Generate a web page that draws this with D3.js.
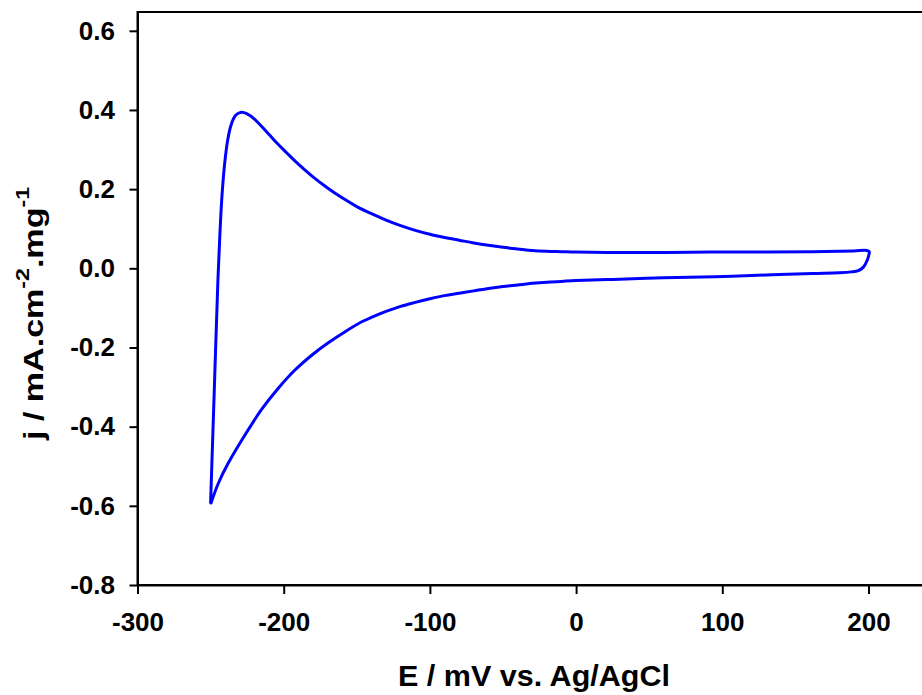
<!DOCTYPE html>
<html>
<head>
<meta charset="utf-8">
<script src="https://cdn.jsdelivr.net/npm/d3@7"></script>
<style>
    html, body { margin: 0; padding: 0; background: #fff; }
    svg { display: block; overflow: hidden; }
    .tick text { font-family: "Liberation Sans", Arial, sans-serif; font-weight: bold; font-size: 26px; fill: #000; }
    .title { font-family: "Liberation Sans", Arial, sans-serif; font-weight: bold; fill: #000; }
</style>
</head>
<body>
<svg id="svg" width="922" height="695"></svg>
<script>
// Forward (anodic) scan, -250 mV -> 200 mV
const forwardE = [-250, -247.5, -245, -243.6, -242.4, -240.6, -238.3, -236, -233, -229, -225, -220, -216, -210, -204, -198, -192, -186, -180, -170, -160, -150, -140, -130, -120, -110, -100, -90, -80, -70, -60, -50, -40, -30, -20, -10, 0, 25, 60, 95, 130, 162, 190, 198.8, 200.5]
const forwardJ = [-0.592, -0.31, -0.03, 0.089, 0.173, 0.257, 0.324, 0.362, 0.386, 0.394, 0.390, 0.377, 0.362, 0.338, 0.314, 0.292, 0.270, 0.250, 0.231, 0.203, 0.178, 0.156, 0.138, 0.122, 0.108, 0.096, 0.086, 0.078, 0.071, 0.064, 0.058, 0.053, 0.049, 0.045, 0.043, 0.042, 0.041, 0.040, 0.040, 0.041, 0.041, 0.042, 0.044, 0.045, 0.042]

// Reverse (cathodic) scan, 200 mV -> -250 mV
const reverseE = [200.3, 199.2, 196.5, 193, 188, 180, 162, 130, 95, 60, 25, 0, -10, -20, -30, -40, -50, -60, -70, -80, -90, -100, -110, -120, -130, -140, -146.6, -158, -169.5, -180, -192.3, -203.7, -215, -226.5, -237.9, -244.7, -249.7]
const reverseJ = [0.035, 0.021, 0.003, -0.006, -0.009, -0.011, -0.013, -0.017, -0.021, -0.024, -0.028, -0.031, -0.033, -0.035, -0.038, -0.042, -0.046, -0.051, -0.057, -0.063, -0.069, -0.077, -0.086, -0.096, -0.109, -0.124, -0.135, -0.160, -0.188, -0.217, -0.257, -0.303, -0.356, -0.421, -0.492, -0.543, -0.593]

const xTicks = [-300, -200, -100, 0, 100, 200]
const yTicks = [-0.8, -0.6, -0.4, -0.2, 0.0, 0.2, 0.4, 0.6]

const xTitle = 'E / mV vs. Ag/AgCl'

const drawChart = () => {
    const svg = d3.select('#svg')
    const left = 137.5, right = 941.6, top = 12, bottom = 585

    const locale = d3.formatLocale({ decimal: '.', thousands: ',', grouping: [3], currency: ['', ''], minus: '-' })

    const xScale = d3.scaleLinear().domain([-300, 250]).range([left, right])
    const yScale = d3.scaleLinear().domain([-0.8, 0.6475]).range([bottom, top])

    // frame (right side runs off the picture)
    svg.append('rect')
        .attr('x', left).attr('y', top)
        .attr('width', right - left).attr('height', bottom - top)
        .attr('fill', 'none').attr('stroke', '#000').attr('stroke-width', 2)

    const xAxis = svg.append('g')
        .attr('transform', `translate(0,${bottom})`)
        .call(d3.axisBottom(xScale).tickValues(xTicks).tickFormat(locale.format('d'))
            .tickSize(9).tickPadding(19).tickSizeOuter(0))
    const yAxis = svg.append('g')
        .attr('transform', `translate(${left},0)`)
        .call(d3.axisLeft(yScale).tickValues(yTicks).tickFormat(locale.format('.1f'))
            .tickSize(8).tickPadding(14.5).tickSizeOuter(0))

    ;[xAxis, yAxis].forEach((g) => {
        g.select('.domain').attr('stroke', '#000').attr('stroke-width', 2)
        g.selectAll('.tick line').attr('stroke', '#000').attr('stroke-width', 2)
    })

    // CV loop
    const points = forwardE.map((e, i) => [e, forwardJ[i]])
        .concat(reverseE.map((e, i) => [e, reverseJ[i]]))

    const line = d3.line()
        .x((d) => xScale(d[0]))
        .y((d) => yScale(d[1]))
        .curve(d3.curveCatmullRom.alpha(0.5))

    svg.append('path')
        .datum(points)
        .attr('d', line)
        .attr('fill', 'none')
        .attr('stroke', '#0000ff')
        .attr('stroke-width', 3)
        .attr('stroke-linejoin', 'round')
        .attr('stroke-linecap', 'round')

    // Axis titles
    svg.append('text')
        .attr('class', 'title')
        .attr('x', 534).attr('y', 685.5)
        .attr('text-anchor', 'middle')
        .attr('font-size', 29)
        .attr('textLength', 272)
        .attr('lengthAdjust', 'spacingAndGlyphs')
        .text(xTitle)

    const yTitle = svg.append('text')
        .attr('class', 'title')
        .attr('transform', 'translate(43,313.5) rotate(-90)')
        .attr('text-anchor', 'middle')
        .attr('font-size', 28)
        .attr('textLength', 253)
        .attr('lengthAdjust', 'spacingAndGlyphs')
    yTitle.append('tspan').text('j / mA.cm')
    yTitle.append('tspan').attr('font-size', 19).attr('dy', -14).text('-2')
    yTitle.append('tspan').attr('dy', 14).text('.mg')
    yTitle.append('tspan').attr('font-size', 19).attr('dy', -14).text('-1')
}

drawChart()
</script>
</body>
</html>
